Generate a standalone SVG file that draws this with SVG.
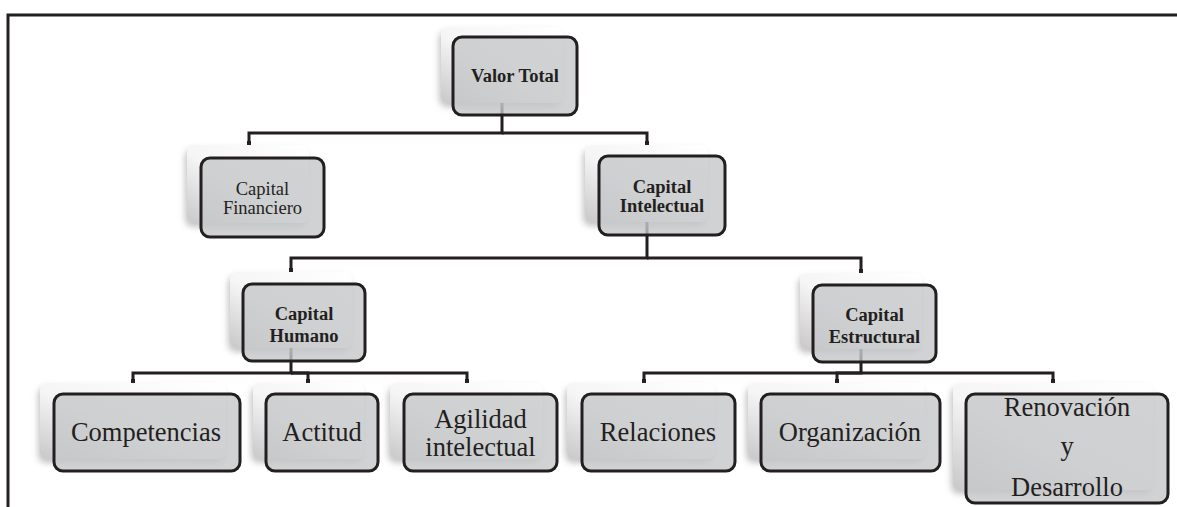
<svg xmlns="http://www.w3.org/2000/svg" width="1177" height="507" viewBox="0 0 1177 507">
<style>
.sh{fill:url(#gshade);filter:url(#drop);}
.mb{fill:#c6c7c9;fill-opacity:0.8;stroke:#231f20;stroke-width:3;}
.t{font-family:"Liberation Serif","Times New Roman",serif;fill:#231f20;text-anchor:middle;}
.s{font-size:18.5px;}
.b{font-weight:bold;}
.l{font-size:26.5px;}
.c{fill:none;stroke:#231f20;stroke-width:3;stroke-linejoin:miter;}
.frame{fill:none;stroke:#231f20;stroke-width:3;}
</style>
<defs>
<linearGradient id="gshade" x1="1" y1="0" x2="0" y2="1">
<stop offset="0" stop-color="#ffffff"/>
<stop offset="0.55" stop-color="#f5f5f5"/>
<stop offset="1" stop-color="#c8c8c8"/>
</linearGradient>
<filter id="drop" x="-20%" y="-20%" width="140%" height="150%">
<feDropShadow dx="-2" dy="4" stdDeviation="3" flood-color="#7a7a7a" flood-opacity="0.45"/>
</filter>
<marker id="tick" markerWidth="4" markerHeight="4" refX="2" refY="2" markerUnits="userSpaceOnUse" orient="auto">
<rect x="0" y="0" width="4" height="4" fill="#231f20"/>
</marker>
</defs>
<rect width="1177" height="507" fill="#ffffff"/>
<path class="frame" d="M8 507 V15 H1177"/>
<g id="connectors">
<path class="c" d="M502 103 V133 H249 V143" marker-end="url(#tick)"/>
<path class="c" d="M502 133 H647 V143" marker-end="url(#tick)"/>
<path class="c" d="M647 222 V258 H291 V270" marker-end="url(#tick)"/>
<path class="c" d="M647 258 H861 V271" marker-end="url(#tick)"/>
<path class="c" d="M291 348 V373 H133 V381" marker-end="url(#tick)"/>
<path class="c" d="M291 373 H308 V381" marker-end="url(#tick)"/>
<path class="c" d="M291 373 H467 V381" marker-end="url(#tick)"/>
<path class="c" d="M861 349 V373 H644 V381" marker-end="url(#tick)"/>
<path class="c" d="M861 373 H837 V381" marker-end="url(#tick)"/>
<path class="c" d="M861 373 H1053 V381" marker-end="url(#tick)"/>
</g>
<g id="valor-total">
<rect class="sh" x="441" y="27" width="122" height="76" rx="8"/>
<rect class="mb" x="453" y="37" width="124" height="78" rx="9"/>
<text class="t s b" x="515" y="82">Valor Total</text>
</g>
<g id="capital-financiero">
<rect class="sh" x="187" y="145" width="122" height="78" rx="8"/>
<rect class="mb" x="201" y="158" width="123" height="79" rx="9"/>
<text class="t s" x="262.5" y="195">Capital</text>
<text class="t s" x="262.5" y="214">Financiero</text>
</g>
<g id="capital-intelectual">
<rect class="sh" x="585" y="145" width="123" height="77" rx="8"/>
<rect class="mb" x="599" y="156" width="126" height="79" rx="9"/>
<text class="t s b" x="662" y="193">Capital</text>
<text class="t s b" x="662" y="212">Intelectual</text>
</g>
<g id="capital-humano">
<rect class="sh" x="230" y="272" width="122" height="76" rx="8"/>
<rect class="mb" x="243" y="284" width="122" height="77" rx="9"/>
<text class="t s b" x="304" y="320">Capital</text>
<text class="t s b" x="304" y="342">Humano</text>
</g>
<g id="capital-estructural">
<rect class="sh" x="800" y="273" width="122" height="76" rx="8"/>
<rect class="mb" x="813" y="285" width="123" height="77" rx="9"/>
<text class="t s b" x="874.5" y="321">Capital</text>
<text class="t s b" x="874.5" y="343">Estructural</text>
</g>
<g id="competencias">
<rect class="sh" x="40" y="383" width="186" height="76" rx="8"/>
<rect class="mb" x="54" y="394" width="186" height="77" rx="9"/>
<text class="t l" x="146" y="441">Competencias</text>
</g>
<g id="actitud">
<rect class="sh" x="253" y="383" width="111" height="76" rx="8"/>
<rect class="mb" x="266" y="394" width="112" height="77" rx="9"/>
<text class="t l" x="322" y="441">Actitud</text>
</g>
<g id="agilidad-intelectual">
<rect class="sh" x="390" y="383" width="153" height="76" rx="8"/>
<rect class="mb" x="404" y="394" width="153" height="77" rx="9"/>
<text class="t l" x="480.5" y="428">Agilidad</text>
<text class="t l" x="480.5" y="456">intelectual</text>
</g>
<g id="relaciones">
<rect class="sh" x="567" y="383" width="148" height="76" rx="8"/>
<rect class="mb" x="582" y="394" width="153" height="77" rx="9"/>
<text class="t l" x="658" y="441">Relaciones</text>
</g>
<g id="organizacion">
<rect class="sh" x="748" y="383" width="177" height="76" rx="8"/>
<rect class="mb" x="761" y="394" width="179" height="77" rx="9"/>
<text class="t l" x="850" y="441">Organización</text>
</g>
<g id="renovacion-desarrollo">
<rect class="sh" x="953" y="383" width="200" height="107" rx="8"/>
<rect class="mb" x="966" y="394" width="202" height="109" rx="9"/>
<text class="t l" x="1067" y="416">Renovación</text>
<text class="t l" x="1067" y="455">y</text>
<text class="t l" x="1067" y="496">Desarrollo</text>
</g>
</svg>
